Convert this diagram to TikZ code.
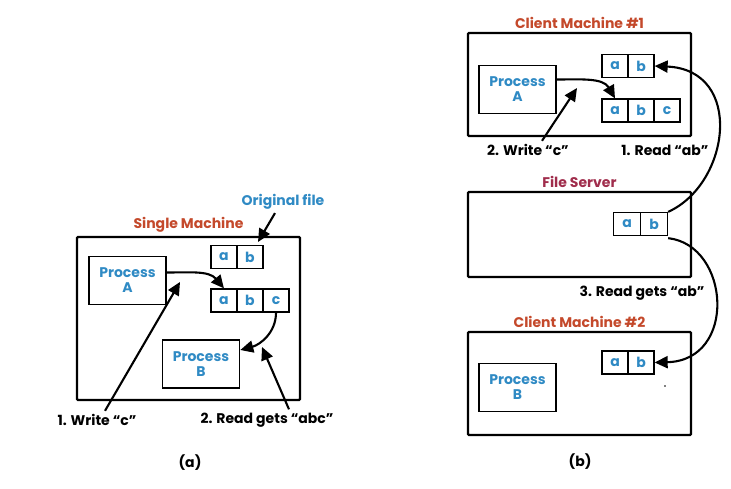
\documentclass[tikz,border=0pt]{standalone}
\usepackage{fontspec}
\setmainfont{Poppins}
\usetikzlibrary{shapes,arrows.meta,positioning}
\definecolor{titlered}{HTML}{C4492B}
\definecolor{serverred}{HTML}{A02D4C}
\definecolor{fileblue}{HTML}{2F8AC4}
\newcommand\diagfont{\fontsize{14}{15}\selectfont\bfseries}

\tikzset{
  machine/.style={draw, line width=2.2pt, rounded corners=1pt, minimum width=223pt},
  proc/.style={draw, line width=1.6pt, minimum width=77pt, minimum height=48pt,
    align=center, text=fileblue, font=\diagfont, inner sep=1pt},
  cell/.style={draw, line width=1.3pt, minimum width=26pt, minimum height=23pt,
    text=fileblue, font=\diagfont, inner sep=0pt},
  heading/.style={font=\diagfont, text=titlered},
  note/.style={font=\diagfont},
  flow/.style={line width=2.1pt, -{Triangle[length=13pt,width=12pt]}}
}

\begin{document}
\begin{tikzpicture}[x=1pt, y=-1pt]
  \useasboundingbox (0,0) rectangle (731,488);

  % (a) one machine
  \node[machine, minimum height=163pt] (single) at (188.5,318.5) {};
  \node[heading, above=0pt of single] (singlet) {Single Machine};
  \node[proc] (procA) at (127.5,280.5) {Process\\A};
  \node[proc] (procB) at (201,364) {Process\\B};
  \foreach \l [count=\i] in {a,b}
    \node[cell] (old\l) at ({198+26*\i},257) {\l};
  \foreach \l [count=\i] in {a,b,c}
    \node[cell] (new\l) at ({198+26*\i},300.5) {\l};
  \node[note, text=fileblue] (origf) at (283,202) {Original file};
  \node[note] (write) at (97,420) {1. Write “c”};
  \node[note] (read) at (267,420) {2. Read gets “abc”};
  \node[note] (capa) at (190,463) {(a)};
  \coordinate (otip) at (258,242);
  \coordinate (wtip) at (180,282);
  \coordinate (rtip) at (262,347);
  \draw[flow] ([xshift=-8]origf.south) -- (otip);
  \draw[flow] ([yshift=8]procA.east) to[out=0,in=130] (newa.north);
  \draw[flow] (newc.south) to[out=-90,in=15] ([yshift=14]procB.east);
  \draw[flow] ([xshift=8]write.north) -- (wtip);
  \draw[flow] ([xshift=22]read.north) -- (rtip);

  % (b) client machines and server
  \node[machine, minimum height=103pt] (cm1) at (579.5,84.5) {};
  \node[heading, above=0pt of cm1] (cm1t) {Client Machine \#1};
  \node[machine, minimum height=85pt] (srv) at (579.5,234.5) {};
  \node[heading, text=serverred, above=0pt of srv] (srvt) {File Server};
  \node[machine, minimum height=103pt] (cm2) at (579.5,383.5) {};
  \node[heading, above=0pt of cm2] (cm2t) {Client Machine \#2};
  \node[proc] (pA) at (517.5,89.5) {Process\\A};
  \node[proc] (pB) at (517.5,387.5) {Process\\B};
  \foreach \l [count=\i] in {a,b}
    \node[cell] (one\l) at ({589+26*\i},66) {\l};
  \foreach \l [count=\i] in {a,b,c}
    \node[cell] (onenew\l) at ({589+26*\i},110.5) {\l};
  \foreach \l [count=\i] in {a,b}
    \node[cell, minimum width=27pt] (srv\l) at ({600+27*\i},224) {\l};
  \foreach \l [count=\i] in {a,b}
    \node[cell] (two\l) at ({589+26*\i},362.5) {\l};
  \node[note] (write2) at (528,150) {2. Write “c”};
  \node[note] (read1) at (665,150) {1. Read “ab”};
  \node[note] (read3) at (642,293) {3. Read gets “ab”};
  \node[note] (capb) at (580,462) {(b)};
  \coordinate (w2tip) at (577,88);
  \draw[flow] ([yshift=10]pA.east) to[out=0,in=120] (onenewa.north);
  \draw[flow] ([xshift=14]write2.north) -- (w2tip);
  \draw[flow] (srvb.north east) .. controls +(62,-28) and +(90,4) .. (oneb.east);
  \draw[flow] ([yshift=-2]srvb.south east) .. controls +(62,7) and +(83,-2) .. (twob.east);
  \fill (665,386) circle (0.8pt);
\end{tikzpicture}
\end{document}
